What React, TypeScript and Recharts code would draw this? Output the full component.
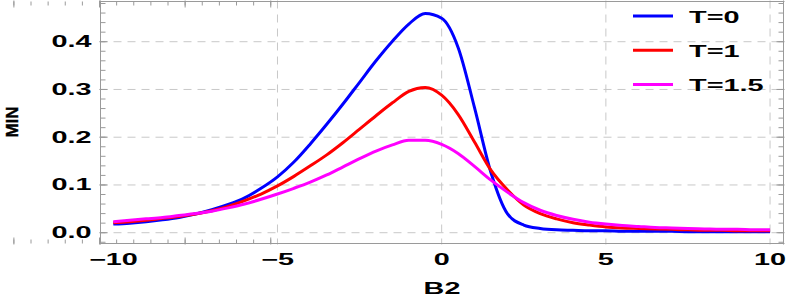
import React from 'react'
import {
  LineChart, Line, XAxis, YAxis, CartesianGrid, Legend, Label
} from 'recharts'

// B2 sample points, step 0.5 (shared by all three curves)
const xs = [-10, -9.5, -9, -8.5, -8, -7.5, -7, -6.5, -6, -5.5, -5, -4.5, -4, -3.5, -3, -2.5, -2, -1.5, -1, -0.5, 0, 0.5, 1, 1.5, 2, 2.5, 3, 3.5, 4, 4.5, 5, 5.5, 6, 6.5, 7, 7.5, 8, 8.5, 9, 9.5, 10]

// MIN for T=0, T=1, T=1.5
const minT0 = [0.018, 0.020, 0.023, 0.027, 0.032, 0.039, 0.048, 0.059, 0.073, 0.093, 0.117, 0.148, 0.186, 0.227, 0.270, 0.315, 0.360, 0.401, 0.437, 0.459, 0.449, 0.388, 0.262, 0.126, 0.040, 0.016, 0.009, 0.006, 0.005, 0.004, 0.004, 0.003, 0.003, 0.003, 0.003, 0.002, 0.002, 0.002, 0.002, 0.002, 0.002]
const minT1 = [0.021, 0.023, 0.026, 0.030, 0.034, 0.039, 0.046, 0.055, 0.067, 0.081, 0.098, 0.118, 0.140, 0.163, 0.189, 0.217, 0.245, 0.272, 0.296, 0.304, 0.288, 0.248, 0.190, 0.131, 0.090, 0.058, 0.040, 0.029, 0.021, 0.016, 0.012, 0.010, 0.009, 0.008, 0.007, 0.006, 0.005, 0.005, 0.004, 0.004, 0.004]
const minT15 = [0.023, 0.026, 0.029, 0.032, 0.036, 0.040, 0.045, 0.052, 0.060, 0.070, 0.081, 0.093, 0.106, 0.121, 0.138, 0.155, 0.171, 0.184, 0.1935, 0.1935, 0.185, 0.166, 0.139, 0.110, 0.085, 0.063, 0.047, 0.036, 0.028, 0.022, 0.018, 0.015, 0.013, 0.011, 0.010, 0.009, 0.008, 0.007, 0.007, 0.006, 0.006]

const seriesNames = ['T=0', 'T=1', 'T=1.5']
const seriesColors = ['#0000ff', '#ff0000', '#ff00ff']

// ticks
const xMajor = [-10, -5, 0, 5, 10]
const xMinor = [-10, -9, -8, -7, -6, -5, -4, -3, -2, -1, 0, 1, 2, 3, 4, 5, 6, 7, 8, 9, 10]
const yMajor = [0, 0.1, 0.2, 0.3, 0.4]
const yMinor = [-0.02, 0, 0.02, 0.04, 0.06, 0.08, 0.1, 0.12, 0.14, 0.16, 0.18, 0.2, 0.22, 0.24, 0.26, 0.28, 0.3, 0.32, 0.34, 0.36, 0.38, 0.4, 0.42, 0.44, 0.46, 0.48]
const xGrid = [-5, 0, 5, 10]

const X_DOMAIN: [number, number] = [-10.42, 10.44]
const Y_DOMAIN: [number, number] = [-0.0247, 0.4863]

const FRAME = '#9a9a9a'
const FONT = '"Liberation Sans", Arial, sans-serif'

const data = xs.map((x, i) => ({ x, t0: minT0[i], t1: minT1[i], t15: minT15[i] }))

const fmtX = (v: number) => (v < 0 ? '\u2212' + Math.abs(v) : String(v))

const XTick = (props: any) => {
  const { x, y, payload } = props
  return (
    <g transform={`translate(${x},${y + 20.5}) scale(1.8,1)`}>
      <text textAnchor="middle" fontFamily={FONT} fontWeight="bold" fontSize={16} fill="#000">
        {fmtX(payload.value)}
      </text>
    </g>
  )
}

const YTick = (props: any) => {
  const { x, y, payload } = props
  return (
    <g transform={`translate(${x - 8},${y + 5.5}) scale(1.8,1)`}>
      <text textAnchor="end" fontFamily={FONT} fontWeight="bold" fontSize={16} fill="#000">
        {Number(payload.value).toFixed(1)}
      </text>
    </g>
  )
}

const XLabel = (props: any) => {
  const vb = props.viewBox || {}
  return (
    <g transform={`translate(${vb.x + vb.width / 2},${vb.y + 49}) scale(1.8,1)`}>
      <text textAnchor="middle" fontFamily={FONT} fontWeight="bold" fontSize={16} fill="#000">B2</text>
    </g>
  )
}

const YLabel = () => (
  <text transform="translate(17.5,122) rotate(-90)" textAnchor="middle" fontFamily={FONT} fontWeight="bold" fontSize={17} stroke="#000" strokeWidth={0.4} fill="#000">
    MIN
  </text>
)

const renderLegend = () => (
  <svg width={170} height={100}>
    {seriesNames.map((name, i) => {
      const cy = 16 + i * 34.2
      return (
        <g key={name}>
          <line x1={13} x2={53} y1={cy} y2={cy} stroke={seriesColors[i]} strokeWidth={3} />
          <g transform={`translate(69,${cy + 6.5}) scale(1.7,1)`}>
            <text fontFamily={FONT} fontWeight="bold" fontSize={17} fill="#000">{name}</text>
          </g>
        </g>
      )
    })}
  </svg>
)

// inward-pointing frame ticks, no labels (1px size so they stack on the plot edge)
const frameX = (id: string, orientation: 'top' | 'bottom', ticks: number[], size: number, line: boolean) => (
  <XAxis
    key={id}
    xAxisId={id}
    type="number"
    domain={X_DOMAIN}
    allowDataOverflow
    orientation={orientation}
    mirror
    height={1}
    ticks={ticks}
    interval={0}
    tickSize={size}
    tickFormatter={() => ''}
    tickLine={{ stroke: FRAME }}
    axisLine={line ? { stroke: FRAME } : false}
  />
)

const frameY = (id: string, orientation: 'left' | 'right', ticks: number[], size: number, line: boolean) => (
  <YAxis
    key={id}
    yAxisId={id}
    type="number"
    domain={Y_DOMAIN}
    allowDataOverflow
    orientation={orientation}
    mirror
    width={1}
    ticks={ticks}
    interval={0}
    tickSize={size}
    tickFormatter={() => ''}
    tickLine={{ stroke: FRAME }}
    axisLine={line ? { stroke: FRAME } : false}
  />
)

export default function App() {
  return (
    <div style={{ position: 'absolute', left: 0, top: 0, width: 793, height: 300, background: '#fff' }}>
      <LineChart width={793} height={300} data={data} margin={{ top: 0.5, right: 8.5, bottom: 0, left: 0 }}>
        <CartesianGrid
          xAxisId="x"
          yAxisId="y"
          stroke="#c8c8c8"
          strokeDasharray="8 6"
          horizontalValues={yMajor}
          verticalValues={xGrid}
        />
        <XAxis
          xAxisId="x"
          dataKey="x"
          type="number"
          domain={X_DOMAIN}
          allowDataOverflow
          ticks={xMajor}
          interval={0}
          height={55.5}
          axisLine={false}
          tickLine={false}
          tickSize={0}
          tickMargin={0}
          tick={<XTick />}
        >
          <Label content={<XLabel />} />
        </XAxis>
        <YAxis
          yAxisId="y"
          type="number"
          domain={Y_DOMAIN}
          allowDataOverflow
          ticks={yMajor}
          interval={0}
          width={99.5}
          axisLine={false}
          tickLine={false}
          tickSize={0}
          tickMargin={0}
          tick={<YTick />}
        >
          <Label content={<YLabel />} />
        </YAxis>
        {frameX('bMin', 'bottom', xMinor, 4, true)}
        {frameX('bMaj', 'bottom', xMajor, 7, false)}
        {frameX('tMin', 'top', xMinor, 4, true)}
        {frameX('tMaj', 'top', xMajor, 7, false)}
        {frameY('lMin', 'left', yMinor, 5, true)}
        {frameY('lMaj', 'left', yMajor, 8, false)}
        {frameY('rMin', 'right', yMinor, 5, true)}
        {frameY('rMaj', 'right', yMajor, 8, false)}
        <Line xAxisId="x" yAxisId="y" type="monotone" dataKey="t0" name={seriesNames[0]} stroke={seriesColors[0]} strokeWidth={3} dot={false} isAnimationActive={false} />
        <Line xAxisId="x" yAxisId="y" type="monotone" dataKey="t1" name={seriesNames[1]} stroke={seriesColors[1]} strokeWidth={3} dot={false} isAnimationActive={false} />
        <Line xAxisId="x" yAxisId="y" type="monotone" dataKey="t15" name={seriesNames[2]} stroke={seriesColors[2]} strokeWidth={3} dot={false} isAnimationActive={false} />
        <Legend
          layout="vertical"
          align="center"
          verticalAlign="middle"
          wrapperStyle={{ left: 620, top: 0, width: 170, height: 100 }}
          content={renderLegend}
        />
      </LineChart>
    </div>
  )
}
